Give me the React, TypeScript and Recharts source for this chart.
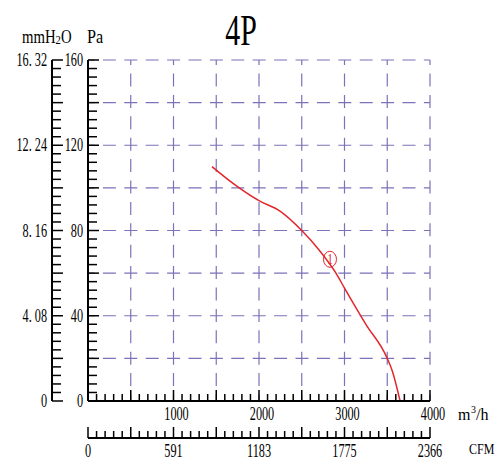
import React from 'react';
import { LineChart, Line, XAxis, YAxis, ReferenceLine, ReferenceDot } from 'recharts';

// fan curve (m3/h, Pa)
const flow = [1450, 1700, 2000, 2250, 2500, 2700, 2900, 3000, 3250, 3500, 3560, 3650];
const pressure = [110, 102, 94, 89, 80, 71, 60, 53, 36, 20, 14, 0];

// curve tag "1"
const tagFlow = 2830;
const tagPa = 66.5;

const flowLabels = [1000, 2000, 3000, 4000];
const cfmLabels = ['0', '591', '1183', '1775', '2366'];
const paLabels = [0, 40, 80, 120, 160];
const mmLabels = ['0', '4. 08', '8. 16', '12. 24', '16. 32'];

const gridFlow = [500, 1000, 1500, 2000, 2500, 3000, 3500, 4000];
const gridPa = [20, 40, 60, 80, 100, 120, 140, 160];

const FLOW_MAX = 4000;
const MM_MAX = 16.32;

// minor ticks every 100 m3/h (the CFM scale shares them) and every 4 Pa
const flowTicks = Array.from({ length: 41 }, (_, i) => i * 100);
const paTicks = Array.from({ length: 41 }, (_, i) => i * 4);
const mmTicks = Array.from({ length: 41 }, (_, i) => (i * MM_MAX) / 40);

const data = flow.map((f, i) => ({ flow: f, pa: pressure[i] }));

const FONT = "'Liberation Serif', 'Times New Roman', serif";
const GRID = '#7b72b8';
const RED = '#e3262b';

// axis ids: recharts stacks same-side axes by id, first one next to the plot
const X_FLOW = 'a_flow';
const X_CFM = 'b_cfm';
const Y_PA = 'a_pa';
const Y_MM = 'b_mm';

const Txt = ({ x, y, anchor = 'start', size = 18, sx = 0.68, fill = '#000', children }: any) => (
  <text
    transform={`translate(${x},${y}) scale(${sx},1)`}
    textAnchor={anchor}
    fontFamily={FONT}
    fontSize={size}
    fill={fill}
  >
    {children}
  </text>
);

const FlowTick = ({ x, y, payload }: any) => {
  const i = Math.round(payload.value / 100);
  const major = i % 5 === 0;
  const label = flowLabels.indexOf(payload.value);
  return (
    <g>
      <line x1={x} y1={y} x2={x} y2={y - (major ? 11 : 7)} stroke="#000" strokeWidth={1.5} />
      {label >= 0 && (
        <Txt x={x + 3} y={y + 19} anchor="middle">
          {flowLabels[label]}
        </Txt>
      )}
    </g>
  );
};

const CfmTick = ({ x, y, payload }: any) => {
  const i = Math.round(payload.value / 100);
  const major = i % 5 === 0;
  return (
    <g>
      <line x1={x} y1={y} x2={x} y2={y - (major ? 11 : 7)} stroke="#000" strokeWidth={1.5} />
      {i % 10 === 0 && (
        <Txt x={x} y={y + 19} anchor="middle">
          {cfmLabels[i / 10]}
        </Txt>
      )}
    </g>
  );
};

const makeYTick = (step: number, labels: any[]) => ({ x, y, payload }: any) => {
  const i = Math.round(payload.value / step);
  const major = i % 5 === 0;
  return (
    <g>
      <line x1={x} y1={y} x2={x + (major ? 11 : 9)} y2={y} stroke="#000" strokeWidth={1.5} />
      {i % 10 === 0 && (
        <Txt x={x - 5} y={y + 6} anchor="end">
          {labels[i / 10]}
        </Txt>
      )}
    </g>
  );
};

const PaTick = makeYTick(4, paLabels);
const MmTick = makeYTick(MM_MAX / 40, mmLabels);

const Tag = ({ cx, cy }: any) => (
  <g>
    <ellipse cx={cx} cy={cy} rx={6.5} ry={8} fill="none" stroke={RED} strokeWidth={1} />
    <Txt x={cx} y={cy + 5} anchor="middle" size={14} sx={0.8} fill={RED}>
      1
    </Txt>
  </g>
);

const axisCommon = {
  type: 'number' as const,
  interval: 0,
  tickSize: 0,
  tickMargin: 0,
  tickLine: false,
  axisLine: { stroke: '#000', strokeWidth: 2 },
  allowDataOverflow: true,
};

export default function App() {
  return (
    <div style={{ position: 'absolute', left: 0, top: 0, width: 500, height: 472, background: '#fff' }}>
      <LineChart width={500} height={472} data={data} margin={{ top: 60, right: 70, left: 0, bottom: 0 }}>
        <XAxis {...axisCommon} xAxisId={X_FLOW} dataKey="flow" domain={[0, FLOW_MAX]} ticks={flowTicks} height={37} tick={FlowTick} />
        <XAxis {...axisCommon} xAxisId={X_CFM} dataKey="flow" domain={[0, FLOW_MAX]} ticks={flowTicks} height={34} tick={CfmTick} />
        <YAxis {...axisCommon} yAxisId={Y_PA} domain={[0, 160]} ticks={paTicks} width={36} tick={PaTick} />
        <YAxis {...axisCommon} yAxisId={Y_MM} domain={[0, MM_MAX]} ticks={mmTicks} width={52} tick={MmTick} />
        {gridFlow.map((v) => (
          <ReferenceLine
            key={'v' + v}
            x={v}
            xAxisId={X_FLOW}
            yAxisId={Y_PA}
            stroke={GRID}
            strokeWidth={1.2}
            strokeDasharray="13 8.4"
            strokeDashoffset={6.5}
          />
        ))}
        {gridPa.map((v) => (
          <ReferenceLine
            key={'h' + v}
            y={v}
            xAxisId={X_FLOW}
            yAxisId={Y_PA}
            stroke={GRID}
            strokeWidth={1.2}
            strokeDasharray="13 8.4"
            strokeDashoffset={6.5}
          />
        ))}
        <Line
          xAxisId={X_FLOW}
          yAxisId={Y_PA}
          dataKey="pa"
          type="monotone"
          stroke={RED}
          strokeWidth={1.5}
          dot={false}
          isAnimationActive={false}
        />
        <ReferenceDot x={tagFlow} y={tagPa} xAxisId={X_FLOW} yAxisId={Y_PA} shape={Tag} />
      </LineChart>
      <svg width={500} height={472} style={{ position: 'absolute', left: 0, top: 0, pointerEvents: 'none' }}>
        <Txt x={241} y={45} anchor="middle" size={44} sx={0.68}>
          4P
        </Txt>
        <text transform="translate(22,43) scale(0.82,1)" fontFamily={FONT} fontSize={18}>
          mmH<tspan fontSize={13} dy={1}>2</tspan>
          <tspan dy={-1}>O</tspan>
        </text>
        <Txt x={87} y={43} sx={0.9}>
          Pa
        </Txt>
        <text x={458} y={420} fontFamily={FONT} fontSize={16}>
          m
        </text>
        <text x={471} y={413} fontFamily={FONT} fontSize={10}>
          3
        </text>
        <text x={476} y={420} fontFamily={FONT} fontSize={16}>
          /h
        </text>
        <Txt x={469} y={454} size={15} sx={0.8}>
          CFM
        </Txt>
      </svg>
    </div>
  );
}
